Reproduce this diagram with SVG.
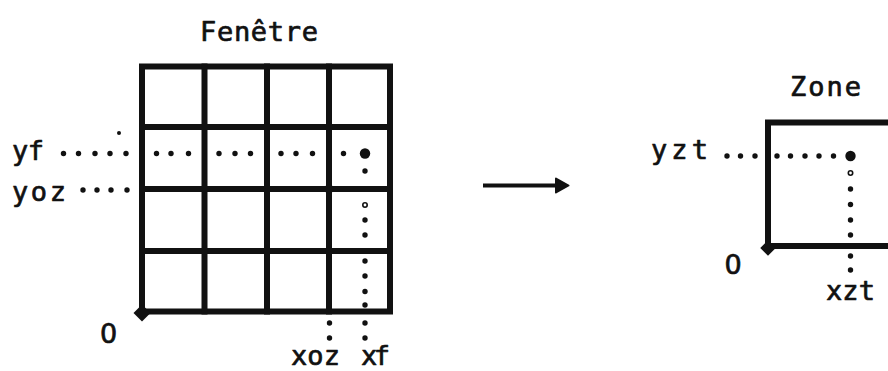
<svg xmlns="http://www.w3.org/2000/svg" width="888" height="371" viewBox="0 0 888 371">
<style>
.t{font-family:"DejaVu Sans Mono",monospace;font-size:27px;fill:#111;stroke:#111;stroke-width:0.7;stroke-linejoin:round}
.z{font-family:"DejaVu Sans",sans-serif;font-size:27px;fill:#111;stroke:#111;stroke-width:0.7;stroke-linejoin:round}
.g{stroke:#111;stroke-width:6;fill:none;stroke-linecap:square}
.d{fill:#111}
.r{fill:#fff;stroke:#111;stroke-width:1.6}
.a{stroke:#111;stroke-width:4;fill:none}
.ah{fill:#111;stroke:#111;stroke-width:2;stroke-linejoin:round}
</style>
<rect width="888" height="371" fill="#fff"/>
<g id="fenetre">
<path class="g" d="M142 66.5H390V311.5H142Z"/>
<path class="g" d="M204.5 66.5V311.5M267 66.5V311.5M329 66.5V311.5M142 127H390M142 189H390M142 251H390"/>
<circle class="d" cx="329" cy="189" r="4.5"/>
<rect class="d" x="136" y="307" width="12" height="12" transform="rotate(45 142 313)"/>
<text class="t" x="200" y="41" textLength="118" lengthAdjust="spacing">Fenêtre</text>
</g>
<g id="zone">
<path class="g" d="M891 122.5H768V246H891"/>
<rect class="d" x="762.5" y="242.5" width="11" height="11" transform="rotate(45 768 248)"/>
<text class="t" x="790" y="96" textLength="71" lengthAdjust="spacing">Zone</text>
</g>
<g id="labels">
<text class="t" x="12" y="160" textLength="32" lengthAdjust="spacing">yf</text>
<text class="t" x="12" y="201" textLength="54" lengthAdjust="spacing">yoz</text>
<text class="z" x="100" y="343">0</text>
<text class="t" x="291" y="365" textLength="49" lengthAdjust="spacing">xoz</text>
<text class="t" x="361" y="365" textLength="29" lengthAdjust="spacing">xf</text>
<text class="t" x="651" y="159" textLength="57" lengthAdjust="spacing">yzt</text>
<text class="z" x="724.5" y="274">0</text>
<text class="t" x="826" y="299.5" textLength="49" lengthAdjust="spacing">xzt</text>
</g>
<g id="guides">
<circle class="d" cx="119" cy="133" r="2"/>
<circle class="d" cx="63.5" cy="153.5" r="2.7"/>
<circle class="d" cx="78.5" cy="153.5" r="2.7"/>
<circle class="d" cx="95" cy="153.5" r="2.7"/>
<circle class="d" cx="110" cy="153.5" r="2.7"/>
<circle class="d" cx="126" cy="153.5" r="2.7"/>
<circle class="d" cx="156.5" cy="153.5" r="2.7"/>
<circle class="d" cx="171" cy="153.5" r="2.7"/>
<circle class="d" cx="188.5" cy="153.5" r="2.7"/>
<circle class="d" cx="219" cy="153.5" r="2.7"/>
<circle class="d" cx="235" cy="153.5" r="2.7"/>
<circle class="d" cx="250.5" cy="153.5" r="2.7"/>
<circle class="d" cx="281" cy="153.5" r="2.7"/>
<circle class="d" cx="296" cy="153.5" r="2.7"/>
<circle class="d" cx="312.5" cy="153.5" r="2.7"/>
<circle class="d" cx="343.5" cy="153.5" r="2.7"/>
<circle class="d" cx="365" cy="153.5" r="5.2"/>
<circle class="d" cx="83" cy="190" r="2.7"/>
<circle class="d" cx="97" cy="190" r="2.7"/>
<circle class="d" cx="111" cy="190" r="2.7"/>
<circle class="d" cx="127" cy="190" r="2.7"/>
<circle class="d" cx="365" cy="171" r="2.7"/>
<circle class="r" cx="365" cy="205" r="2.2"/>
<circle class="d" cx="365" cy="220" r="2.7"/>
<circle class="d" cx="365" cy="235" r="2.7"/>
<circle class="d" cx="365" cy="261" r="2.7"/>
<circle class="d" cx="365" cy="276" r="2.7"/>
<circle class="d" cx="365" cy="291.5" r="2.7"/>
<circle class="d" cx="365" cy="305" r="2.7"/>
<circle class="d" cx="365" cy="323" r="2.7"/>
<circle class="d" cx="365" cy="338" r="2.7"/>
<circle class="d" cx="329.5" cy="323" r="2.7"/>
<circle class="d" cx="329.5" cy="338" r="2.7"/>
<circle class="d" cx="727" cy="156" r="2.7"/>
<circle class="d" cx="740.5" cy="156" r="2.7"/>
<circle class="d" cx="755" cy="156" r="2.7"/>
<circle class="d" cx="777" cy="156" r="2.7"/>
<circle class="d" cx="790.5" cy="156" r="2.7"/>
<circle class="d" cx="805" cy="156" r="2.7"/>
<circle class="d" cx="819" cy="156" r="2.7"/>
<circle class="d" cx="833.5" cy="156" r="2.7"/>
<circle class="d" cx="850.5" cy="156" r="5.2"/>
<circle class="r" cx="850.5" cy="173" r="2.2"/>
<circle class="d" cx="850.5" cy="189" r="2.7"/>
<circle class="d" cx="850.5" cy="204.5" r="2.7"/>
<circle class="d" cx="850.5" cy="220" r="2.7"/>
<circle class="d" cx="850.5" cy="235" r="2.7"/>
<circle class="d" cx="850.5" cy="256" r="2.7"/>
<circle class="d" cx="850.5" cy="270" r="2.7"/>
</g>
<g id="connectors">
<line class="a" x1="483" y1="185.5" x2="557" y2="185.5"/>
<polygon class="ah" points="556,178.5 568.5,185.5 556,192.5"/>
</g>
</svg>
